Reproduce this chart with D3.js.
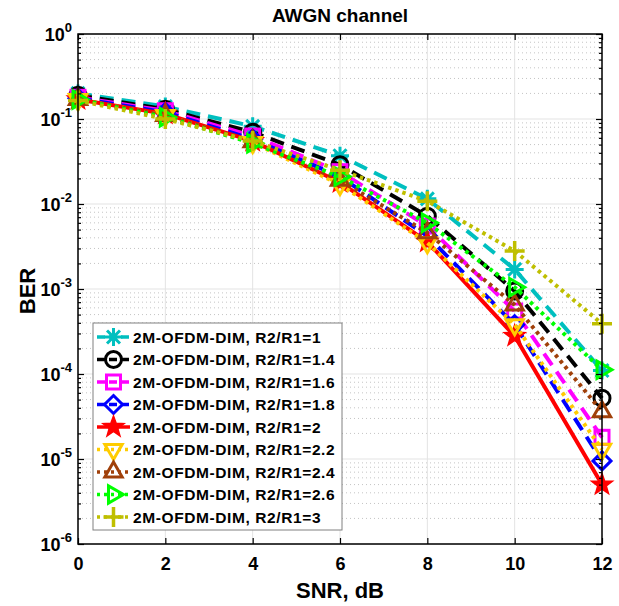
<!DOCTYPE html>
<html>
<head>
<meta charset="utf-8">
<script src="https://cdn.jsdelivr.net/npm/d3@7"></script>
<style>
  html, body { margin: 0; padding: 0; background: #fff; }
  svg { display: block; font-family: "Liberation Sans", Arial, sans-serif; }
</style>
</head>
<body>
<svg id="chart" width="619" height="606"></svg>
<script>
// SNR points (dB)
const snr = [0, 2, 4, 6, 8, 10, 12];

// Series labels
const seriesNames = [
  "2M-OFDM-DIM, R2/R1=1",
  "2M-OFDM-DIM, R2/R1=1.4",
  "2M-OFDM-DIM, R2/R1=1.6",
  "2M-OFDM-DIM, R2/R1=1.8",
  "2M-OFDM-DIM, R2/R1=2",
  "2M-OFDM-DIM, R2/R1=2.2",
  "2M-OFDM-DIM, R2/R1=2.4",
  "2M-OFDM-DIM, R2/R1=2.6",
  "2M-OFDM-DIM, R2/R1=3"
];

// BER per series
const berR1_0 = [0.20, 0.14, 0.082, 0.037, 0.0115, 0.0017, 1.1e-4];
const berR1_4 = [0.19, 0.13, 0.070, 0.029, 0.0072, 0.00095, 5.2e-5];
const berR1_6 = [0.18, 0.125, 0.063, 0.024, 0.0055, 0.00055, 1.8e-5];
const berR1_8 = [0.175, 0.12, 0.058, 0.021, 0.0042, 0.00038, 9.5e-6];
const berR2_0 = [0.17, 0.115, 0.055, 0.018, 0.0036, 0.00028, 5.0e-6];
const berR2_2 = [0.17, 0.11, 0.053, 0.017, 0.0035, 0.00038, 1.3e-5];
const berR2_4 = [0.17, 0.11, 0.054, 0.019, 0.0046, 0.00065, 3.6e-5];
const berR2_6 = [0.17, 0.105, 0.052, 0.021, 0.0060, 0.00105, 1.12e-4];
const berR3_0 = [0.165, 0.10, 0.055, 0.025, 0.0108, 0.0028, 3.9e-4];

const seriesValues = [berR1_0, berR1_4, berR1_6, berR1_8, berR2_0, berR2_2, berR2_4, berR2_6, berR3_0];

// x tick labels and y decades
const xTicks = [0, 2, 4, 6, 8, 10, 12];
const yDecades = [0, -1, -2, -3, -4, -5, -6];

// Per-series appearance
const styles = [
  { color: "#00BFBF", dash: "14,8",  marker: "asterisk" },
  { color: "#000000", dash: "14,8",  marker: "circle" },
  { color: "#FF00FF", dash: "14,8",  marker: "square" },
  { color: "#0000FF", dash: "14,8",  marker: "diamond" },
  { color: "#FF0000", dash: null,    marker: "star" },
  { color: "#FFCC00", dash: "3.5,4", marker: "triDown" },
  { color: "#A0400A", dash: "3.5,4", marker: "triUp" },
  { color: "#00FF00", dash: "3.5,4", marker: "triRight" },
  { color: "#BFBF00", dash: "3.5,4", marker: "plus" }
];

const svg = d3.select("#chart");
const L = 78, R = 602, T = 34, B = 544;

const x = d3.scaleLinear().domain([0, 12]).range([L, R]);
const y = d3.scaleLog().domain([1e-6, 1]).range([B, T]);

// Grid
const grid = svg.append("g");
const minorVals = [];
for (let e = -6; e < 0; e++) for (let m = 2; m <= 9; m++) minorVals.push(m * Math.pow(10, e));
grid.selectAll("line.minor").data(minorVals).enter().append("line")
  .attr("x1", L).attr("x2", R)
  .attr("y1", d => y(d)).attr("y2", d => y(d))
  .attr("stroke", "#c4c4c4").attr("stroke-width", 1).attr("stroke-dasharray", "1,3");
grid.selectAll("line.hmaj").data(yDecades).enter().append("line")
  .attr("x1", L).attr("x2", R)
  .attr("y1", d => y(Math.pow(10, d))).attr("y2", d => y(Math.pow(10, d)))
  .attr("stroke", "#e3e3e3").attr("stroke-width", 1);
grid.selectAll("line.vmaj").data(xTicks).enter().append("line")
  .attr("x1", d => x(d)).attr("x2", d => x(d))
  .attr("y1", T).attr("y2", B)
  .attr("stroke", "#e3e3e3").attr("stroke-width", 1);

// Marker shapes
function drawMarker(g, type, color, cx, cy) {
  const sw = 3;
  if (type === "circle") {
    g.append("circle").attr("cx", cx).attr("cy", cy).attr("r", 8)
      .attr("fill", "none").attr("stroke", color).attr("stroke-width", sw);
  } else if (type === "square") {
    g.append("rect").attr("x", cx - 7).attr("y", cy - 7).attr("width", 14).attr("height", 14)
      .attr("fill", "none").attr("stroke", color).attr("stroke-width", sw);
  } else if (type === "diamond") {
    const r = 9;
    g.append("path").attr("d", `M${cx},${cy - r}L${cx + r},${cy}L${cx},${cy + r}L${cx - r},${cy}Z`)
      .attr("fill", "none").attr("stroke", color).attr("stroke-width", sw);
  } else if (type === "star") {
    const pts = [];
    for (let i = 0; i < 10; i++) {
      const a = -Math.PI / 2 + i * Math.PI / 5;
      const r = i % 2 === 0 ? 11 : 4.5;
      pts.push([cx + r * Math.cos(a), cy + r * Math.sin(a)]);
    }
    g.append("path").attr("d", "M" + pts.join("L") + "Z")
      .attr("fill", color).attr("stroke", color).attr("stroke-width", 1.5);
  } else if (type === "triUp" || type === "triDown" || type === "triRight") {
    const r = 10;
    const rot = type === "triUp" ? -90 : type === "triDown" ? 90 : 0;
    const pts = [0, 1, 2].map(i => {
      const a = (rot + i * 120) * Math.PI / 180;
      return [cx + r * Math.cos(a), cy + r * Math.sin(a)];
    });
    g.append("path").attr("d", "M" + pts.join("L") + "Z")
      .attr("fill", "none").attr("stroke", color).attr("stroke-width", sw);
  } else if (type === "plus") {
    const r = 10;
    g.append("path").attr("d", `M${cx - r},${cy}H${cx + r}M${cx},${cy - r}V${cy + r}`)
      .attr("stroke", color).attr("stroke-width", 3.5);
  } else if (type === "asterisk") {
    const r = 9, d = r * 0.72;
    g.append("path")
      .attr("d", `M${cx - r},${cy}H${cx + r}M${cx},${cy - r}V${cy + r}M${cx - d},${cy - d}L${cx + d},${cy + d}M${cx - d},${cy + d}L${cx + d},${cy - d}`)
      .attr("stroke", color).attr("stroke-width", 3);
  }
}

// Series lines and markers
const line = d3.line().x(d => x(d[0])).y(d => y(d[1]));
const plot = svg.append("g");
seriesValues.forEach((vals, i) => {
  const st = styles[i];
  const g = plot.append("g");
  const pts = snr.map((s, k) => [s, vals[k]]);
  g.append("path").attr("d", line(pts))
    .attr("fill", "none").attr("stroke", st.color).attr("stroke-width", 4)
    .attr("stroke-dasharray", st.dash);
  pts.forEach(p => drawMarker(g, st.marker, st.color, x(p[0]), y(p[1])));
});

// Axes box with inward ticks
const axes = svg.append("g");
axes.append("rect").attr("x", L).attr("y", T).attr("width", R - L).attr("height", B - T)
  .attr("fill", "none").attr("stroke", "#000").attr("stroke-width", 1.5);

const xAxisB = d3.axisBottom(x).tickValues(xTicks).tickSizeInner(-6).tickSizeOuter(0).tickFormat(d3.format("d"));
const xAxisT = d3.axisTop(x).tickValues(xTicks).tickSizeInner(-6).tickSizeOuter(0).tickFormat("");
const gxb = axes.append("g").attr("transform", `translate(0,${B})`).call(xAxisB);
axes.append("g").attr("transform", `translate(0,${T})`).call(xAxisT);
gxb.selectAll("text").attr("dy", "1.1em").attr("y", 6)
  .attr("font-size", 18).attr("font-weight", "bold").attr("fill", "#000")
  .attr("font-family", "Liberation Sans, Arial, sans-serif");

const yAxisL = d3.axisLeft(y).tickValues(yDecades.map(e => Math.pow(10, e))).tickSizeInner(-6).tickSizeOuter(0).tickFormat("");
const yAxisR = d3.axisRight(y).tickValues(yDecades.map(e => Math.pow(10, e))).tickSizeInner(-6).tickSizeOuter(0).tickFormat("");
axes.append("g").attr("transform", `translate(${L},0)`).call(yAxisL);
axes.append("g").attr("transform", `translate(${R},0)`).call(yAxisR);
const yMinL = d3.axisLeft(y).tickValues(minorVals).tickSizeInner(-3).tickSizeOuter(0).tickFormat("");
const yMinR = d3.axisRight(y).tickValues(minorVals).tickSizeInner(-3).tickSizeOuter(0).tickFormat("");
axes.append("g").attr("transform", `translate(${L},0)`).call(yMinL);
axes.append("g").attr("transform", `translate(${R},0)`).call(yMinR);
axes.selectAll(".domain").remove();
axes.selectAll(".tick line").attr("stroke", "#000").attr("stroke-width", 1.2);

// y tick labels as powers of ten
const yl = axes.append("g");
yDecades.forEach(e => {
  const t = yl.append("text")
    .attr("x", 72).attr("y", y(Math.pow(10, e)) + 7)
    .attr("text-anchor", "end").attr("font-weight", "bold").attr("font-size", 18);
  t.append("tspan").text("10");
  t.append("tspan").attr("dy", -9).attr("font-size", 13).text(String(e));
});

// Titles
svg.append("text").attr("x", (L + R) / 2).attr("y", 22).attr("text-anchor", "middle")
  .attr("font-weight", "bold").attr("font-size", 19).text("AWGN channel");
svg.append("text").attr("x", (L + R) / 2).attr("y", 598).attr("text-anchor", "middle")
  .attr("font-weight", "bold").attr("font-size", 22).text("SNR, dB");
svg.append("text").attr("transform", `translate(35,${(T + B) / 2 + 2}) rotate(-90)`)
  .attr("text-anchor", "middle").attr("font-weight", "bold").attr("font-size", 22).text("BER");

// Legend
const lg = svg.append("g");
lg.append("rect").attr("x", 93).attr("y", 323).attr("width", 249).attr("height", 207)
  .attr("fill", "#fff").attr("stroke", "#808080").attr("stroke-width", 1);
seriesNames.forEach((name, i) => {
  const st = styles[i];
  const cy = 337 + i * 22.5;
  const g = lg.append("g");
  g.append("line").attr("x1", 97).attr("x2", 130).attr("y1", cy).attr("y2", cy)
    .attr("stroke", st.color).attr("stroke-width", 3.5).attr("stroke-dasharray", st.dash ? (st.dash === "14,8" ? "8,4" : "3,4") : null);
  drawMarker(g, st.marker, st.color, 113.5, cy);
  g.append("text").attr("x", 133).attr("y", cy + 5.5).attr("font-weight", "bold")
    .attr("font-size", 15.5).attr("letter-spacing", 0.6).text(name);
});
</script>
</body>
</html>
